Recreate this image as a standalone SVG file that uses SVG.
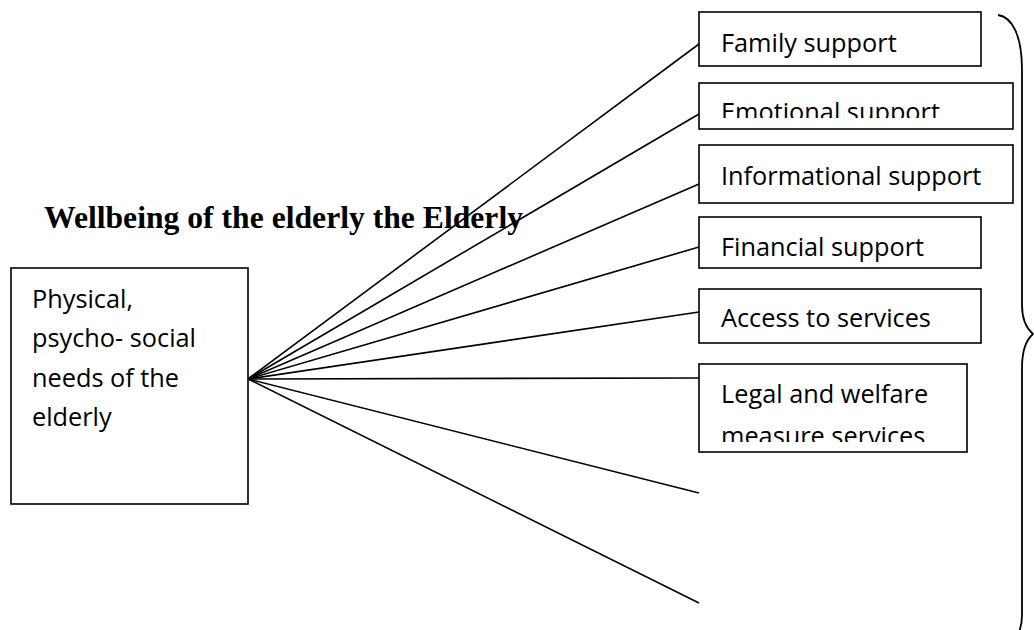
<svg xmlns="http://www.w3.org/2000/svg" width="1034" height="630" viewBox="0 0 1034 630">
  <style>
    .box { fill: #ffffff; stroke: #000000; stroke-width: 1.6; }
    .lbl { font-family: "Open Sans", "Liberation Sans", sans-serif; font-size: 25.3px; fill: #000000; }
    .title { font-family: "Liberation Serif", serif; font-weight: bold; font-size: 30.5px; fill: #000000; }
    .conn line { stroke: #000000; stroke-width: 1.6; }
    .brace { fill: none; stroke: #000000; stroke-width: 1.8; }
  </style>
  <defs>
    <!-- text areas that cut off overflowing labels -->
    <clipPath id="clipEmotional"><rect x="700" y="84" width="312" height="34"/></clipPath>
    <clipPath id="clipLegal"><rect x="700" y="365" width="266" height="77"/></clipPath>
  </defs>

  <text class="title" x="44" y="228" textLength="479" lengthAdjust="spacingAndGlyphs">Wellbeing of the elderly the Elderly</text>

  <g id="needs">
    <rect class="box" x="11" y="268" width="237" height="236"/>
    <text class="lbl" x="32" y="308">Physical,</text>
    <text class="lbl" x="32" y="347">psycho- social</text>
    <text class="lbl" x="32" y="387">needs of the</text>
    <text class="lbl" x="32" y="426">elderly</text>
  </g>

  <g id="family">
    <rect class="box" x="699" y="12" width="282" height="54"/>
    <text class="lbl" x="721" y="52">Family support</text>
  </g>

  <g id="emotional">
    <rect class="box" x="699" y="83" width="314" height="46"/>
    <text class="lbl" x="721" y="121" clip-path="url(#clipEmotional)">Emotional support</text>
  </g>

  <g id="informational">
    <rect class="box" x="699" y="145" width="314" height="58"/>
    <text class="lbl" x="721" y="185">Informational support</text>
  </g>

  <g id="financial">
    <rect class="box" x="699" y="217" width="282" height="51"/>
    <text class="lbl" x="721" y="256">Financial support</text>
  </g>

  <g id="access">
    <rect class="box" x="699" y="289" width="282" height="54"/>
    <text class="lbl" x="721" y="327">Access to services</text>
  </g>

  <g id="legal">
    <rect class="box" x="699" y="364" width="268" height="88"/>
    <g clip-path="url(#clipLegal)">
      <text class="lbl" x="721" y="403">Legal and welfare</text>
      <text class="lbl" x="721" y="445">measure services</text>
    </g>
  </g>

  <g id="connectors" class="conn">
    <line x1="248" y1="379" x2="699" y2="44"/>
    <line x1="248" y1="379" x2="699" y2="114"/>
    <line x1="248" y1="379" x2="699" y2="184"/>
    <line x1="248" y1="379" x2="699" y2="247"/>
    <line x1="248" y1="379" x2="699" y2="312"/>
    <line x1="248" y1="379" x2="699" y2="378"/>
    <line x1="248" y1="379" x2="699" y2="493"/>
    <line x1="248" y1="379" x2="699" y2="603"/>
  </g>

  <g id="brace">
    <path class="brace" d="M998 15 C1012 17 1022 35 1022 70 L1022 305 C1022 320 1026 328 1033 334 C1026 340 1022 350 1022 368 L1022 615 C1022 622 1021 627 1019 632"/>
  </g>
</svg>
